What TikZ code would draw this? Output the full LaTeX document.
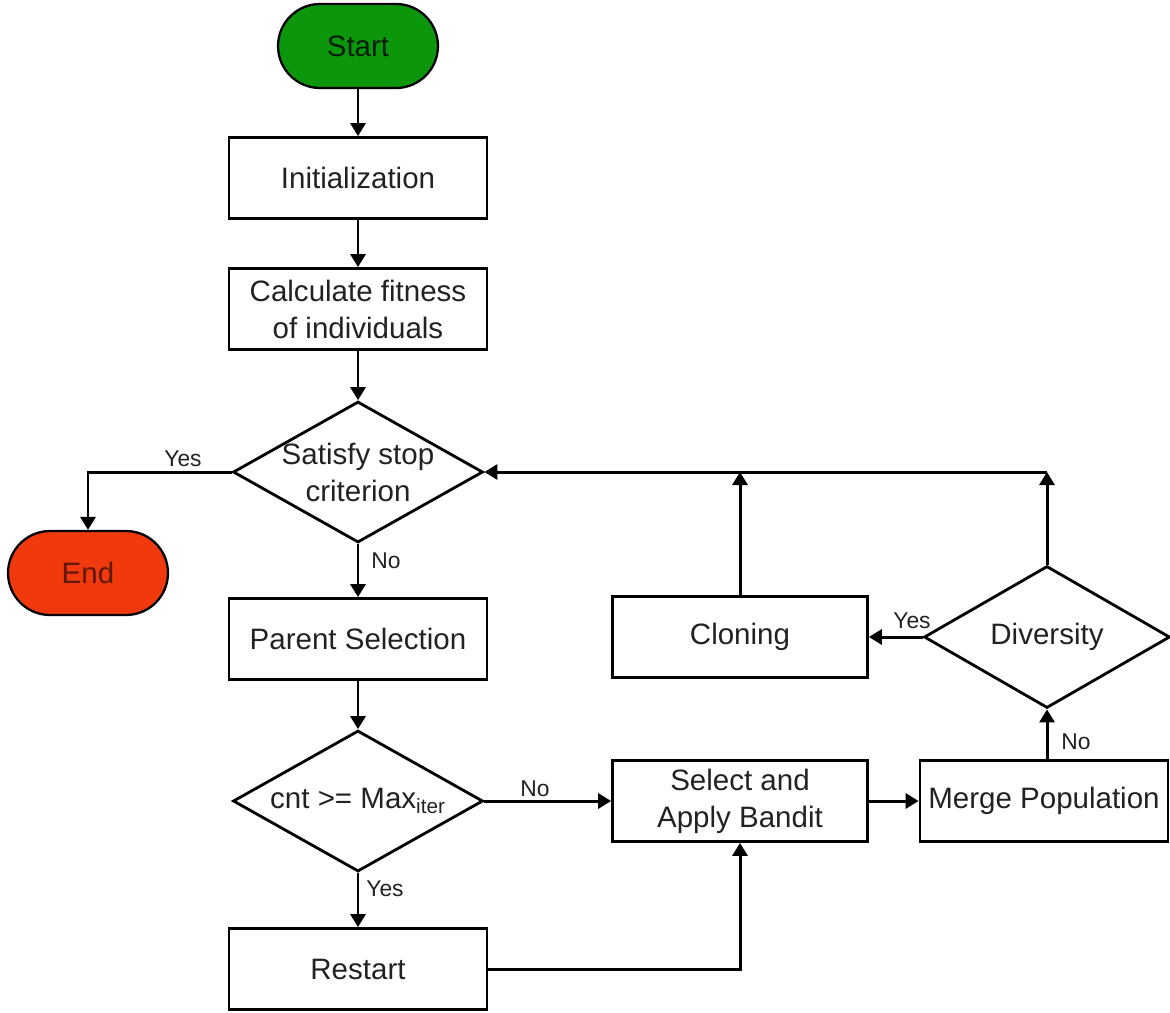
\documentclass[tikz,border=0pt]{standalone}
\usepackage{fontspec}
\setmainfont{Liberation Sans}
\usetikzlibrary{shapes.geometric,arrows.meta}
\definecolor{startgreen}{RGB}{12,150,12}
\definecolor{endred}{RGB}{240,58,14}
\definecolor{ink}{RGB}{34,34,34}
\begin{document}
\begin{tikzpicture}[x=0.02cm,y=-0.02cm,
  every node/.style={font=\fontsize{16.8pt}{21pt}\selectfont, text=ink},
  procbox/.style={draw=black, line width=1.6pt, minimum width=5.16cm, minimum height=1.62cm, align=center, inner sep=2pt},
  pill/.style={draw=black, line width=1.3pt, rounded corners=0.84cm, minimum width=3.2cm, minimum height=1.68cm},
  decide/.style={draw=black, line width=1.6pt, diamond, inner sep=0pt, minimum width=5cm, minimum height=2.82cm},
  tag/.style={font=\fontsize{13pt}{15pt}\selectfont, inner sep=1pt},
  arr/.style={line width=1.7pt, -{Triangle[width=0.3cm,length=0.26cm]}},
  plain/.style={line width=1.7pt}]
\useasboundingbox (0,0) rectangle (1170,1012);

% terminals
\node[pill, fill=startgreen, text=black!80!startgreen] (start) at (358,46) {Start};
\node[pill, fill=endred, text=black!60!endred] (stopend) at (88,573) {End};

% main column
\node[procbox] (init) at (358,178) {Initialization};
\node[procbox] (fit) at (358,309) {Calculate fitness\\of individuals};
\node[decide] (stop) at (358,472) {};
\node at (stop) [align=center] {Satisfy stop\\criterion};
\node[procbox] (parent) at (358,639) {Parent Selection};
\node[decide] (cnt) at (358,801) {};
\node at (cnt) {cnt >= Max\textsubscript{iter}};
\node[procbox] (restart) at (358,969) {Restart};

% right part
\node[procbox, minimum width=5.1cm] (bandit) at (740,801) {Select and\\Apply Bandit};
\node[procbox, minimum width=4.96cm] (merge) at (1044,801) {Merge Population};
\node[decide, minimum width=4.92cm, minimum height=2.84cm] (div) at (1047,637) {};
\node at (div) {Diversity};
\node[procbox, minimum width=5.1cm] (clone) at (740,637) {Cloning};

\coordinate (j1) at (740,472);
\coordinate (j2) at (1047,472);

% connectors
\draw[arr] (start) -- (init);
\draw[arr] (init) -- (fit);
\draw[arr] (fit) -- (stop.north);
\draw[arr] (stop.west) -| (stopend.north);
\node[tag] at (183,459) {Yes};
\draw[arr] (stop.south) -- (parent.north);
\node[tag] at (386,561) {No};
\draw[arr] (parent) -- (cnt.north);
\draw[arr] (cnt.east) -- (bandit.west);
\node[tag] at (535,789) {No};
\draw[arr] (cnt.south) -- (restart.north);
\node[tag] at (385,889) {Yes};
\draw[arr] (restart.east) -| (bandit.south);
\draw[arr] (bandit) -- (merge);
\draw[arr] (merge.north -| div.south) -- (div.south);
\node[tag] at (1076,742) {No};
\draw[arr] (div.west) -- (clone.east);
\node[tag] at (912,621) {Yes};
\draw[arr] (clone.north) -- (j1);
\draw[arr] (div.north) -- (j2);
\draw[arr] (j2) -- (stop.east);
\end{tikzpicture}
\end{document}
